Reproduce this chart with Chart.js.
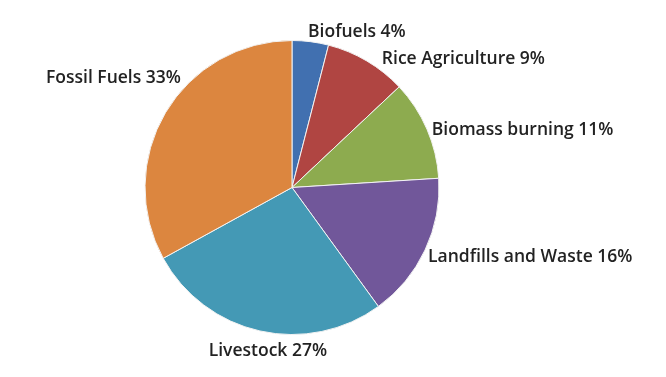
<!DOCTYPE html>
<html>
<head>
<meta charset="utf-8">
<script src="https://cdn.jsdelivr.net/npm/chart.js@4"></script>
<style>
  html, body { margin: 0; padding: 0; background: #ffffff; }
  #wrap { width: 666px; height: 377px; }
</style>
</head>
<body>
<div id="wrap"><canvas id="c" width="666" height="377"></canvas></div>
<script>
const categories = ['Biofuels', 'Rice Agriculture', 'Biomass burning', 'Landfills and Waste', 'Livestock', 'Fossil Fuels'];
const shares = [4, 9, 11, 16, 27, 33];
const sliceColors = ['#4170b0', '#b04542', '#8dab4f', '#71579a', '#4499b5', '#dc863f'];

// label layout tweaks (angle nudge in degrees, distance beyond rim in px)
const labelNudge = [
  { da: -1.3, d: 9 },
  { da: 4.3, d: 10 },
  { da: 1.2, d: 4 },
  { da: 2.0, d: 6 },
  { da: -4.2, d: 18 },
  { da: 14, d: 9 }
];

const sliceLabels = {
  id: 'sliceLabels',
  afterDatasetsDraw(chart) {
    const ctx = chart.ctx;
    const meta = chart.getDatasetMeta(0);
    ctx.save();
    ctx.font = '600 17.5px "Open Sans", sans-serif';
    ctx.fillStyle = '#222222';
    ctx.textBaseline = 'middle';
    meta.data.forEach((arc, i) => {
      const p = arc.getProps(['x', 'y', 'startAngle', 'endAngle', 'outerRadius'], true);
      const n = labelNudge[i];
      const a = (p.startAngle + p.endAngle) / 2 + n.da * Math.PI / 180;
      const r = p.outerRadius + n.d;
      const x = p.x + Math.cos(a) * r;
      const y = p.y + Math.sin(a) * r;
      const c = Math.cos(a);
      ctx.textAlign = c > 0.3 ? 'left' : (c < -0.3 ? 'right' : (Math.sin(a) > 0.9 ? 'center' : (c >= 0 ? 'left' : 'right')));
      ctx.fillText(categories[i] + ' ' + shares[i] + '%', x, y);
    });
    ctx.restore();
  }
};

new Chart(document.getElementById('c'), {
  type: 'pie',
  data: {
    labels: categories,
    datasets: [{
      data: shares,
      backgroundColor: sliceColors,
      borderColor: '#f2f2f2',
      borderWidth: 1
    }]
  },
  options: {
    responsive: false,
    animation: false,
    layout: { padding: { left: 0, right: 82, top: 40, bottom: 42 } },
    plugins: {
      legend: { display: false },
      tooltip: { enabled: false }
    }
  },
  plugins: [sliceLabels]
});
</script>
</body>
</html>
